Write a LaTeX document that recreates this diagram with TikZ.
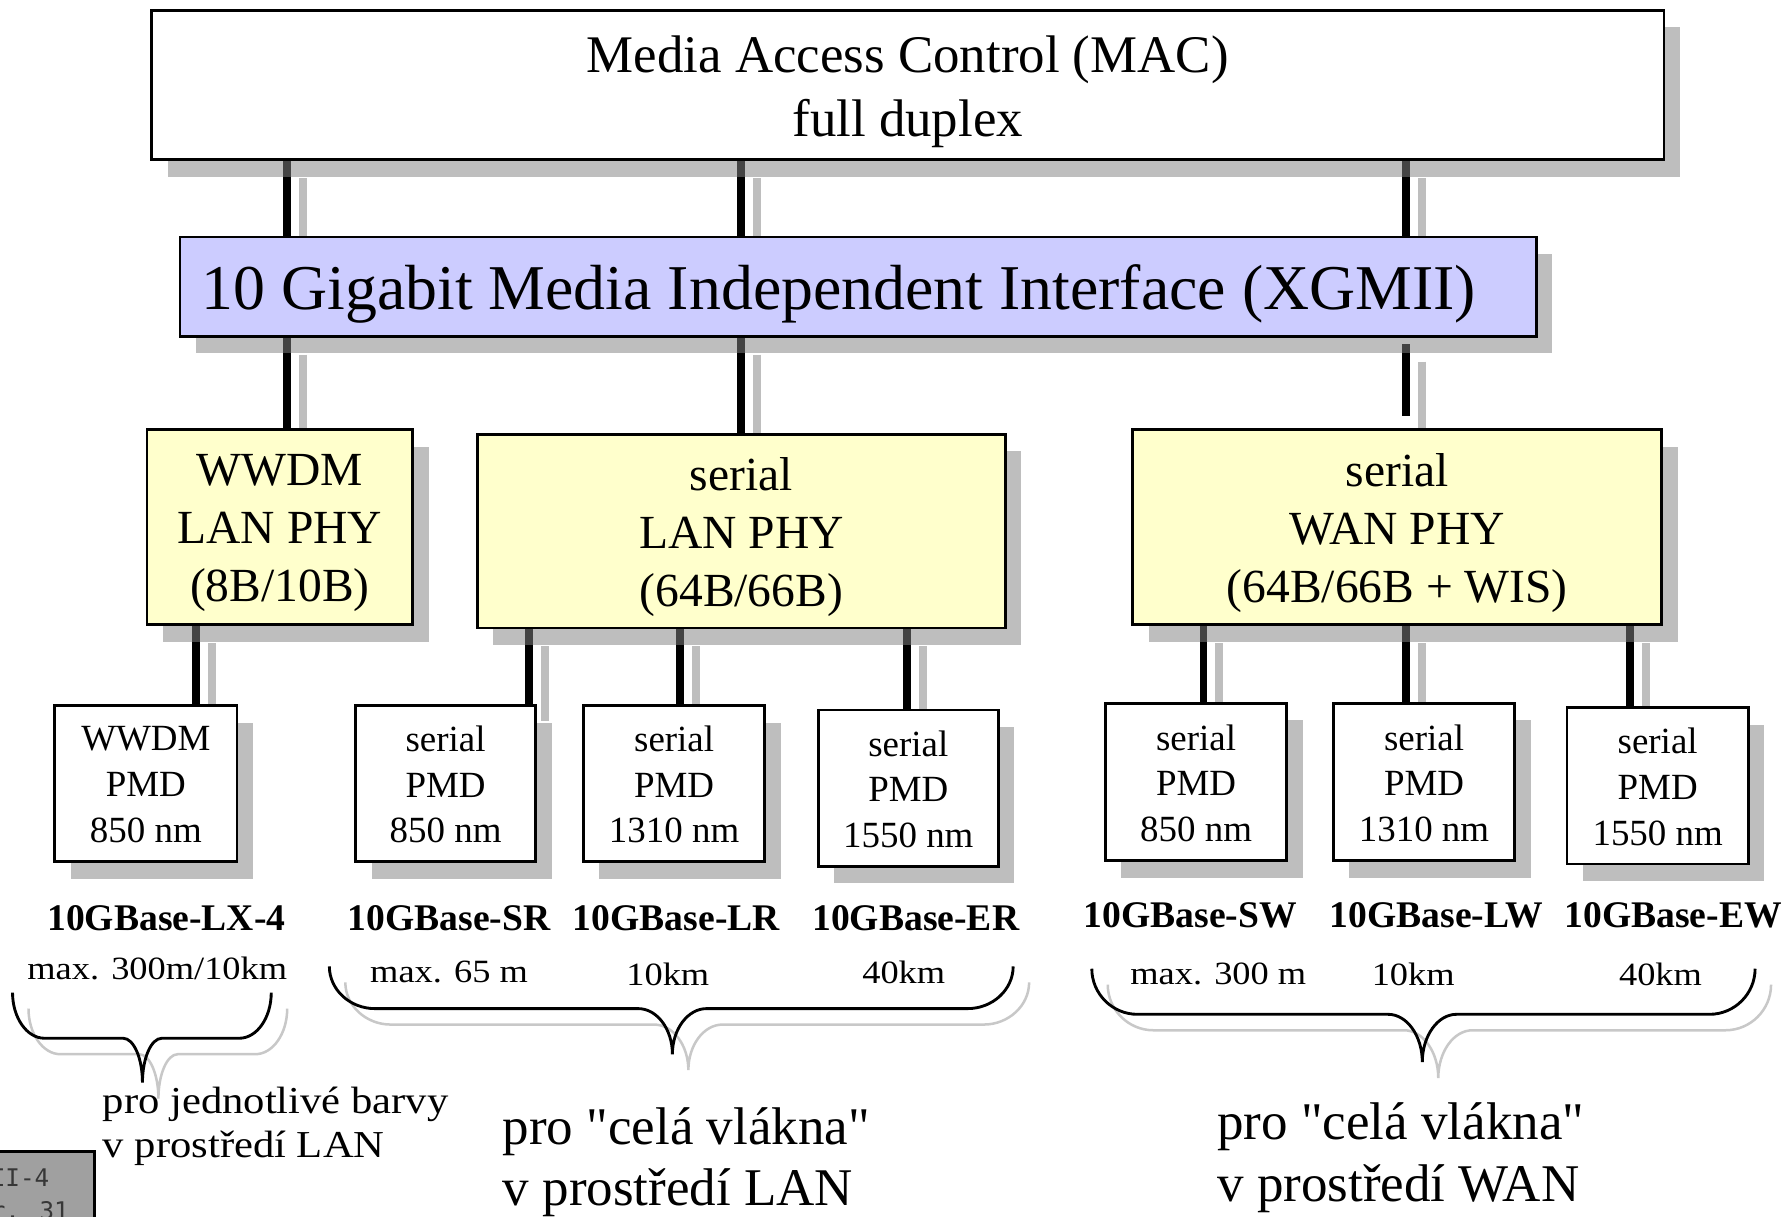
\documentclass[tikz,border=0pt]{standalone}
\usepackage{fontspec}
\setmainfont{Liberation Serif}
\newfontfamily\widefont{Liberation Serif}[FakeStretch=1.12]
\newfontfamily\plainfont{Liberation Serif}[Ligatures=TeXOff]
\newfontfamily\codefont{DejaVu Sans Mono}
\usetikzlibrary{shadows,calc}
\definecolor{shcol}{RGB}{131,131,131}
\definecolor{xgcol}{RGB}{204,204,255}
\definecolor{phycol}{RGB}{255,255,204}
\definecolor{brsh}{RGB}{200,200,200}
\definecolor{refgray}{RGB}{160,160,160}
\definecolor{reftext}{RGB}{55,55,55}
\pgfdeclarelayer{background}
\pgfsetlayers{background,main}
\tikzset{
  boxshadow/.style={drop shadow={shadow xshift=14pt,shadow yshift=-15pt,fill=shcol,opacity=0.52}},
  basebox/.style={draw, line width=2.4pt, inner sep=0pt, boxshadow},
  macbox/.style={basebox, fill=white},
  mactext/.style={inner sep=0pt, align=center, yshift=-6pt, font=\fontsize{46.4}{56}\selectfont},
  xgbox/.style={basebox, fill=xgcol},
  xgtext/.style={inner sep=0pt, yshift=-6pt, xshift=-17pt, font=\fontsize{56}{60}\selectfont},
  phybox/.style={basebox, fill=phycol},
  phytext/.style={inner sep=0pt, align=center, yshift=-5.5pt, font=\fontsize{41.7}{51}\selectfont},
  pmdbox/.style={basebox, fill=white},
  pmdtext/.style={inner sep=0pt, align=center, yshift=-1pt, font=\fontsize{32.4}{40}\selectfont},
  lab/.style={inner sep=0pt, font=\bfseries\fontsize{33}{33}\selectfont},
  dist/.style={inner sep=0pt, font=\widefont\fontsize{28.5}{30}\selectfont},
  smallnote/.style={inner sep=0pt, anchor=base west, font=\widefont\fontsize{33.4}{40}\selectfont},
  bignote/.style={inner sep=0pt, anchor=base west, font=\plainfont\fontsize{46.5}{55}\selectfont},
  cline/.style={line width=7pt, draw=black},
  cshadow/.style={line width=7pt, draw=shcol, opacity=0.52, transform canvas={shift={(14pt,-15pt)}}},
  brline/.style={line width=2.5pt, draw=black},
  brshadow/.style={line width=2.2pt, draw=brsh},
}
\newcommand\linkit[2]{%
  \begin{pgfonlayer}{background}
    \draw[cshadow] #1 -- #2;
    \draw[cline] #1 -- #2;
  \end{pgfonlayer}}
% L R T H M P dx dm
\newcommand\drawbrace[8]{%
  \begin{scope}[shift={(14pt,-14pt)}]
  \draw[brshadow] (#1,#3) .. controls (#1,{#3+0.55*(#4-#3)}) and ({#1+0.45*#7},#4) .. ({#1+#7},#4)
    -- ({#5-#8},#4) .. controls ({#5-0.45*#8},#4) and (#5,{#4+0.45*(#6-#4)}) .. (#5,#6)
    .. controls (#5,{#4+0.45*(#6-#4)}) and ({#5+0.45*#8},#4) .. ({#5+#8},#4)
    -- ({#2-#7},#4) .. controls ({#2-0.45*#7},#4) and (#2,{#3+0.55*(#4-#3)}) .. (#2,#3);
  \end{scope}
  \draw[brline] (#1,#3) .. controls (#1,{#3+0.55*(#4-#3)}) and ({#1+0.45*#7},#4) .. ({#1+#7},#4)
    -- ({#5-#8},#4) .. controls ({#5-0.45*#8},#4) and (#5,{#4+0.45*(#6-#4)}) .. (#5,#6)
    .. controls (#5,{#4+0.45*(#6-#4)}) and ({#5+0.45*#8},#4) .. ({#5+#8},#4)
    -- ({#2-#7},#4) .. controls ({#2-0.45*#7},#4) and (#2,{#3+0.55*(#4-#3)}) .. (#2,#3);}
\begin{document}
\begin{tikzpicture}[x=1pt,y=-1pt]
\useasboundingbox (0,0) rectangle (1568,1067);
\begin{pgfonlayer}{background}
  \fill[white] (0,0) rectangle (1568,1067);
\end{pgfonlayer}
% column coordinates
\coordinate (c1) at (252,0);
\coordinate (c2) at (650,0);
\coordinate (c3) at (1234,0);
\coordinate (p1) at (172,0);
\coordinate (p2) at (464,0);
\coordinate (p3) at (597,0);
\coordinate (p4) at (796,0);
\coordinate (p5) at (1056,0);
\coordinate (p6) at (1234,0);
\coordinate (p7) at (1430,0);

% boxes (text placed as centred labels)
\node[macbox, minimum width=1327pt, minimum height=131pt,
  label={[mactext]center:{Media Access Control (MAC)\\full duplex}}] (mac) at (796.5,74.5) {};
\node[xgbox, minimum width=1190pt, minimum height=87pt,
  label={[xgtext]center:{10 Gigabit Media Independent Interface (XGMII)}}] (xgmii) at (753,251.5) {};

\node[phybox, minimum width=233pt, minimum height=171pt,
  label={[phytext]center:{WWDM\\LAN PHY\\(8B/10B)}}] (wwdmphy) at (245.5,462.5) {};
\node[phybox, minimum width=463pt, minimum height=170pt,
  label={[phytext]center:{serial\\LAN PHY\\(64B/66B)}}] (lanphy) at (650.5,466) {};
\node[phybox, minimum width=464pt, minimum height=171pt,
  label={[phytext]center:{serial\\WAN PHY\\(64B/66B + WIS)}}] (wanphy) at (1226,462.5) {};

\node[pmdbox, minimum width=160pt, minimum height=137pt,
  label={[pmdtext]center:{WWDM\\PMD\\850 nm}}] (pmdA) at (128,687.5) {};
\node[pmdbox, minimum width=158pt, minimum height=137pt,
  label={[pmdtext]center:{serial\\PMD\\850 nm}}] (pmdB) at (391,687.5) {};
\node[pmdbox, minimum width=159pt, minimum height=137pt,
  label={[pmdtext]center:{serial\\PMD\\1310 nm}}] (pmdC) at (591.5,687.5) {};
\node[pmdbox, minimum width=158pt, minimum height=137pt,
  label={[pmdtext]center:{serial\\PMD\\1550 nm}}] (pmdD) at (797,691.5) {};
\node[pmdbox, minimum width=159pt, minimum height=138pt,
  label={[pmdtext]center:{serial\\PMD\\850 nm}}] (pmdE) at (1049.5,686) {};
\node[pmdbox, minimum width=159pt, minimum height=138pt,
  label={[pmdtext]center:{serial\\PMD\\1310 nm}}] (pmdF) at (1249.5,686) {};
\node[pmdbox, minimum width=159pt, minimum height=137pt,
  label={[pmdtext]center:{serial\\PMD\\1550 nm}}] (pmdG) at (1454.5,689.5) {};

% connectors
\linkit{(mac.south -| c1)}{(xgmii.north -| c1)}
\linkit{(mac.south -| c2)}{(xgmii.north -| c2)}
\linkit{(mac.south -| c3)}{(xgmii.north -| c3)}
\linkit{(xgmii.south -| c1)}{(wwdmphy.north -| c1)}
\linkit{(xgmii.south -| c2)}{(lanphy.north -| c2)}
\linkit{($(xgmii.south -| c3)+(0,6)$)}{($(wanphy.north -| c3)+(0,-11)$)}
\linkit{(wwdmphy.south -| p1)}{(pmdA.north -| p1)}
\linkit{(lanphy.south -| p2)}{(pmdB.north -| p2)}
\linkit{(lanphy.south -| p3)}{(pmdC.north -| p3)}
\linkit{(lanphy.south -| p4)}{(pmdD.north -| p4)}
\linkit{(wanphy.south -| p5)}{(pmdE.north -| p5)}
\linkit{(wanphy.south -| p6)}{(pmdF.north -| p6)}
\linkit{(wanphy.south -| p7)}{(pmdG.north -| p7)}

% standard labels
\node[lab] (lLX) at (146,806) {10GBase-LX-4};
\node[lab] (lSR) at (394,806) {10GBase-SR};
\node[lab] (lLR) at (593.5,806) {10GBase-LR};
\node[lab] (lER) at (803.5,806) {10GBase-ER};
\node[lab] (lSW) at (1044.5,803) {10GBase-SW};
\node[lab] (lLW) at (1260.5,803) {10GBase-LW};
\node[lab] (lEW) at (1468,803) {10GBase-EW};

% distances
\node[dist] (dLX) at (138,850) {max. 300m/10km};
\node[dist] (dSR) at (394,853) {max. 65 m};
\node[dist] (dLR) at (586,855) {10km};
\node[dist] (dER) at (793,853) {40km};
\node[dist] (dSW) at (1069,855) {max. 300 m};
\node[dist] (dLW) at (1240,855) {10km};
\node[dist] (dEW) at (1457,855) {40km};

% braces
\drawbrace{11}{238}{871}{911}{125}{950}{28}{17}
\drawbrace{289}{889}{848}{885}{590}{925}{40}{30}
\drawbrace{958}{1540}{850}{890}{1248}{932}{40}{30}

% notes
\node[smallnote] (n1a) at (90,977) {pro jednotlivé barvy};
\node[smallnote] (n1b) at (90,1016) {v prostředí LAN};
\node[bignote] (n2a) at (441,1004) {pro "celá vlákna"};
\node[bignote] (n2b) at (441,1058) {v prostředí LAN};
\node[bignote] (n3a) at (1068,1000) {pro "celá vlákna"};
\node[bignote] (n3b) at (1068,1054) {v prostředí WAN};

% corner tag
\begin{scope}
  \clip (0,0) rectangle (1568,1067);
  \node[draw, line width=2.4pt, fill=refgray, minimum width=100pt, minimum height=80pt, anchor=north east, inner sep=0pt] (tag) at (84,1009) {};
  \node[inner sep=0pt, anchor=base west, text=reftext, font=\codefont\fontsize{21.3}{29}\selectfont] (tag1) at (-8.2,1041) {II-4};
  \node[inner sep=0pt, anchor=base west, text=reftext, font=\codefont\fontsize{21.3}{29}\selectfont] (tag2) at (-8.2,1070) {r. 31};
\end{scope}
\end{tikzpicture}
\end{document}
